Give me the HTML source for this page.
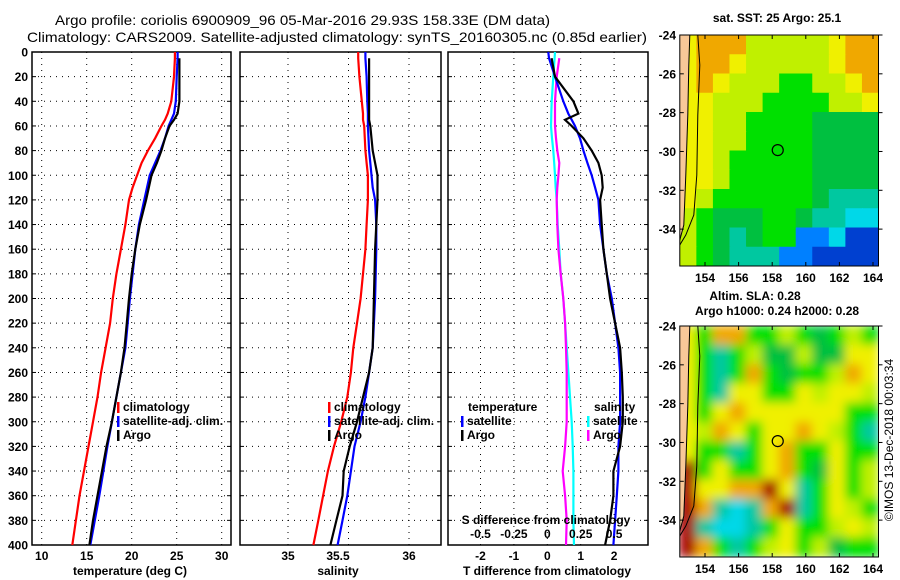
<!DOCTYPE html>
<html><head><meta charset="utf-8"><style>
html,body{margin:0;padding:0;background:#fff;}
svg{display:block;font-family:"Liberation Sans",sans-serif;font-weight:bold;}
</style></head><body>
<svg id="chart" width="900" height="580" viewBox="0 0 900 580" xmlns="http://www.w3.org/2000/svg">
<text x="55" y="25" font-size="14" font-weight="normal" textLength="495" lengthAdjust="spacingAndGlyphs">Argo profile: coriolis 6900909_96 05-Mar-2016 29.93S 158.33E (DM data)</text>
<text x="27" y="42" font-size="14" font-weight="normal" textLength="620" lengthAdjust="spacingAndGlyphs">Climatology: CARS2009. Satellite-adjusted climatology: synTS_20160305.nc (0.85d earlier)</text>
<g id="plots"></g>
<text x="777" y="22" font-size="12" text-anchor="middle">sat. SST: 25 Argo: 25.1</text>
<text x="755" y="300" font-size="12" text-anchor="middle">Altim. SLA: 0.28</text>
<text x="777" y="315" font-size="12" text-anchor="middle">Argo h1000: 0.24 h2000: 0.28</text>
<text x="0" y="0" font-size="12" font-weight="normal" text-anchor="middle" transform="translate(893,440) rotate(-90)">©IMOS 13-Dec-2018 00:03:34</text>
</svg>
<script>
// ---------- data ----------
const depths = [0,5,20,40,50,55,60,70,80,90,100,110,120,140,160,180,200,220,240,260,280,300,320,340,360,380,400];
const tempClim = [24.8,24.8,24.7,24.4,24.0,23.7,23.3,22.6,21.8,21.1,20.6,20.1,19.7,19.3,18.8,18.3,17.9,17.6,17.1,16.6,16.2,15.7,15.2,14.7,14.2,13.8,13.4];
const tempSat  = [25.1,25.1,25.0,24.9,24.7,24.4,24.1,23.7,23.2,22.6,22.0,21.7,21.4,20.8,20.4,20.1,19.8,19.55,19.3,18.8,18.3,17.8,17.3,16.85,16.4,15.9,15.4];
const argoDepths = [5,20,40,50,55,60,70,80,90,100,110,120,140,160,180,200,220,240,260,280,300,320,340,360,380,400];
const tempArgo = [25.3,25.3,25.3,25.1,24.7,24.2,23.7,23.3,22.8,22.2,21.9,21.6,20.9,20.4,20.0,19.7,19.45,19.2,18.8,18.3,17.8,17.2,16.7,16.2,15.7,15.3];
const salClim = [35.58,35.58,35.59,35.61,35.62,35.62,35.63,35.635,35.64,35.65,35.66,35.66,35.66,35.65,35.64,35.62,35.60,35.57,35.54,35.52,35.49,35.44,35.38,35.33,35.29,35.25,35.21];
const salSat  = [35.64,35.64,35.65,35.655,35.66,35.66,35.66,35.665,35.67,35.68,35.69,35.70,35.72,35.73,35.73,35.725,35.72,35.71,35.70,35.67,35.64,35.60,35.55,35.52,35.49,35.45,35.41];
const salArgo = [35.67,35.67,35.67,35.67,35.67,35.68,35.69,35.70,35.72,35.74,35.74,35.74,35.73,35.72,35.715,35.71,35.705,35.70,35.67,35.62,35.57,35.51,35.46,35.45,35.40,35.35];
const dTsat  = [0.03,0.05,0.23,0.48,0.63,0.73,0.83,0.98,1.08,1.2,1.33,1.43,1.53,1.58,1.68,1.78,1.93,2.03,2.13,2.18,2.18,2.18,2.13,2.13,2.08,2.03,1.98];
const dTargo = [0.13,0.23,0.78,0.93,0.53,0.73,1.08,1.33,1.53,1.63,1.66,1.58,1.63,1.68,1.78,1.88,2.03,2.18,2.23,2.26,2.26,2.18,1.98,1.98,1.88,1.73];
const dSsat  = [0.058,0.055,0.045,0.033,0.03,0.029,0.028,0.035,0.045,0.052,0.058,0.063,0.07,0.078,0.09,0.1,0.12,0.133,0.145,0.158,0.17,0.183,0.19,0.195,0.195,0.195,0.2];
const dSargo = [0.09,0.07,0.058,0.058,0.058,0.058,0.065,0.075,0.09,0.083,0.075,0.07,0.075,0.083,0.1,0.12,0.133,0.14,0.145,0.145,0.145,0.133,0.115,0.133,0.145,0.14];
const depthTicks = [0,20,40,60,80,100,120,140,160,180,200,220,240,260,280,300,320,340,360,380,400];
const tempTicks = [10,15,20,25,30];
const salTicks = [35,35.5,36];
const dTTicks = [-2,-1,0,1,2];
const dSTicks = [-0.5,-0.25,0,0.25,0.5];
const lonTicks = [154,156,158,160,162,164];
const latTicks = [-24,-26,-28,-30,-32,-34];
const sstGrid = [
"SOOOLLLLLYOO","SOOYLLLLLYOO","SOYLLLGGLLYO","SYLLLGGGGLLY",
"SYLLGGGGDDDD","SYLLGGGGDDDD","SYLGGGGGDDDD","SYLGGGGGDDDD",
"YLGGGGGGDTTT","LGDDDGGDTTCC","LGDTDGGBBCNN","LGDTTTBBNNNN"];
const slaGrid = [
"SGOOGGLGDGLG","SGTGLDDLDDYY","SGTGOGDGGLOY","SGTYYGGYLYYL",
"SGYOYYYYYYGG","SLOYGYYOYLGT","SGGTGYOGGYGG","RGYGGYOGDYGL",
"RYYOORYTGYGL","ROTCTORTGYLG","RTCCTGYGGLYL","ROGTGLYGLDGG"];
const argoLon = 158.33, argoLat = -29.93;

// ---------- helpers ----------
const NS="http://www.w3.org/2000/svg";
const root=document.getElementById('plots');
function mk(tag,attrs,parent){const e=document.createElementNS(NS,tag);for(const k in attrs)e.setAttribute(k,attrs[k]);(parent||root).appendChild(e);return e;}
function txt(s,attrs,parent){const e=mk('text',attrs,parent);e.textContent=s;return e;}
const Y0=52,Y1=545;
const yD=d=>Y0+(Y1-Y0)*d/400;
const xT=t=>41.7+(t-10)*9;
const xS=s=>288+(s-35)*121;
const xDT=t=>547.3+t*33.4;
const xDS=s=>547.3+s*133.6;

function panel(name){
  const g=mk('g',{});
  
  
  return g;
}
function grid(g,x0,x1,xs){
  for(const d of depthTicks){const l=mk('line',{x1:x0,x2:x1,y1:yD(d),y2:yD(d),stroke:'#000','stroke-width':1,'stroke-dasharray':'1,5'},g);
    
    mk('line',{x1:x0,x2:x0+4,y1:yD(d),y2:yD(d),stroke:'#000'},g);mk('line',{x1:x1-4,x2:x1,y1:yD(d),y2:yD(d),stroke:'#000'},g);}
  for(const x of xs){const l=mk('line',{x1:x,x2:x,y1:Y0,y2:Y1,stroke:'#000','stroke-width':1,'stroke-dasharray':'1,5'},g);
    }
  const r=mk('rect',{x:x0,y:Y0,width:x1-x0,height:Y1-Y0,fill:'none',stroke:'#000','stroke-width':1.5},g);
  
}
function line(g,name,ds,vs,fx,color){
  const pts=ds.map((d,i)=>fx(vs[i]).toFixed(1)+','+yD(d).toFixed(1)).join(' ');
  const p=mk('polyline',{points:pts,fill:'none',stroke:color,'stroke-width':2.2},g);
  
  
}
function legend(g,x,y,color,label){
  mk('rect',{x:x,y:y-9,width:2.5,height:11,fill:color},g);
  const t=txt(label,{x:x+6,y:y,'font-size':12},g);
  
  
}

for(const d of depthTicks){const t=txt(String(d),{x:28,y:yD(d)+4.5,'font-size':12,'text-anchor':'end'});
  }

const g1=panel('temperature-panel');
grid(g1,32,231,tempTicks.map(xT));
line(g1,'temp-climatology-line',depths,tempClim,xT,'#f00');
line(g1,'temp-satellite-line',depths,tempSat,xT,'#00f');
line(g1,'temp-argo-line',argoDepths,tempArgo,xT,'#000');
for(const t of tempTicks){const e=txt(String(t),{x:xT(t),y:560,'font-size':12,'text-anchor':'middle'},g1);}
const a1=txt('temperature (deg C)',{x:130,y:575,'font-size':12,'text-anchor':'middle'},g1);

legend(g1,117,411,'#f00','climatology');legend(g1,117,425,'#00f','satellite-adj. clim.');legend(g1,117,439,'#000','Argo');

const g2=panel('salinity-panel');
grid(g2,240,441,[xS(35),xS(35.5),xS(36)]);
line(g2,'sal-climatology-line',depths,salClim,xS,'#f00');
line(g2,'sal-satellite-line',depths,salSat,xS,'#00f');
line(g2,'sal-argo-line',argoDepths,salArgo,xS,'#000');
for(const s of salTicks){const e=txt(String(s),{x:s===35.5?338:xS(s),y:560,'font-size':12,'text-anchor':'middle'},g2);}
const a2=txt('salinity',{x:338,y:575,'font-size':12,'text-anchor':'middle'},g2);

legend(g2,328,411,'#f00','climatology');legend(g2,328,425,'#00f','satellite-adj. clim.');legend(g2,328,439,'#000','Argo');

const g3=panel('difference-panel');
grid(g3,448,648,dTTicks.map(xDT));
line(g3,'dS-satellite-line',depths,dSsat,xDS,'#0ff');
line(g3,'dS-argo-line',argoDepths,dSargo,xDS,'#f0f');
line(g3,'dT-satellite-line',depths,dTsat,xDT,'#00f');
line(g3,'dT-argo-line',argoDepths,dTargo,xDT,'#000');
for(const t of dTTicks){const e=txt(String(t),{x:xDT(t),y:560,'font-size':12,'text-anchor':'middle'},g3);}
for(const s of dSTicks){const e=txt(String(s),{x:xDS(s),y:538,'font-size':12,'text-anchor':'middle'},g3);}
const a3=txt('T difference from climatology',{x:547,y:575,'font-size':12,'text-anchor':'middle'},g3);

const a3b=txt('S difference from climatology',{x:546,y:524,'font-size':12,'text-anchor':'middle'},g3);

const lh1=txt('temperature',{x:468,y:411,'font-size':12},g3);
const lh2=txt('salinity',{x:594,y:411,'font-size':12},g3);
legend(g3,461,425,'#00f','satellite');legend(g3,461,439,'#000','Argo');
legend(g3,587,425,'#0ff','satellite');legend(g3,587,439,'#f0f','Argo');

const colors={S:'#f8c898',O:'#f0a800',Y:'#f0f000',L:'#c0f000',G:'#00e000',D:'#00c040',T:'#00c8a0',C:'#00d8e8',B:'#0080ff',N:'#0040d0',R:'#a80000'};
const defs=mk('defs',{});
const f=mk('filter',{id:'blur',x:'-5%',y:'-5%',width:'110%',height:'110%'},defs);
mk('feGaussianBlur',{stdDeviation:5},f);
function map(name,gridData,top,bottom,smooth){
  const x0=679.8,x1=878.5;
  const xL=l=>x0+(l-152.5)*16.8;
  const yL=t=>top+(-24-t)*(bottom-top)/11.9;
  const g=mk('g',{});
  
  const cp=mk('clipPath',{id:name+'-clip'},defs);mk('rect',{x:x0,y:top,width:x1-x0,height:bottom-top},cp);
  const cells=mk('g',{'clip-path':'url(#'+name+'-clip)'},g);
  const inner=mk('g',smooth?{filter:'url(#blur)'}:{},cells);
  const nr=gridData.length,nc=gridData[0].length,cw=(x1-x0)/nc,ch=(bottom-top)/nr;
  for(let r=0;r<nr;r++)for(let c=0;c<nc;c++){
    const ch_=gridData[r][c];
    const rc=mk('rect',{x:x0+c*cw-(smooth?0.5:0),y:top+r*ch-(smooth?0.5:0),width:cw+1,height:ch+1,fill:colors[ch_==='S'?'Y':ch_]},inner);
    
  }
  const land=mk('path',{d:`M${x0},${top} L${x0+10},${top} L${x0+9},${top+30} L${x0+8},${top+80} L${x0+6},${top+140} L${x0+4},${top+190} L${x0},${top+205} Z`,fill:'#f8c898'},cells);
  
  const coast=mk('path',{d:`M${x0+18},${top} L${x0+20},${top+30} L${x0+18},${top+80} L${x0+17},${top+140} L${x0+14},${top+180} L${x0+6},${top+200} L${x0},${top+210}`,fill:'none',stroke:'#000','stroke-width':1},cells);
  
  mk('path',{d:`M${x0+10},${top} L${x0+9},${top+30} L${x0+8},${top+80} L${x0+6},${top+140} L${x0+4},${top+190} L${x0},${top+205}`,fill:'none',stroke:'#000','stroke-width':1},cells);
  const circ=mk('circle',{cx:xL(argoLon),cy:yL(argoLat),r:5.5,fill:'none',stroke:'#000','stroke-width':1.2},g);
  
  const fr=mk('rect',{x:x0,y:top,width:x1-x0,height:bottom-top,fill:'none',stroke:'#000','stroke-width':1},g);
  
  for(const l of lonTicks){mk('line',{x1:xL(l),x2:xL(l),y1:bottom,y2:bottom-4,stroke:'#000'},g);mk('line',{x1:xL(l),x2:xL(l),y1:top,y2:top+4,stroke:'#000'},g);
    const t=txt(String(l),{x:xL(l),y:bottom+16,'font-size':12,'text-anchor':'middle'},g);}
  for(const t0 of latTicks){mk('line',{x1:x0,x2:x0+4,y1:yL(t0),y2:yL(t0),stroke:'#000'},g);mk('line',{x1:x1,x2:x1+4,y1:yL(t0),y2:yL(t0),stroke:'#000'},g);
    const t=txt(String(t0),{x:676,y:yL(t0)+4.5,'font-size':12,'text-anchor':'end'},g);}
}
map('sst-map',sstGrid,35,266,false);
map('sla-map',slaGrid,326,557,true);
</script>
</body></html>
